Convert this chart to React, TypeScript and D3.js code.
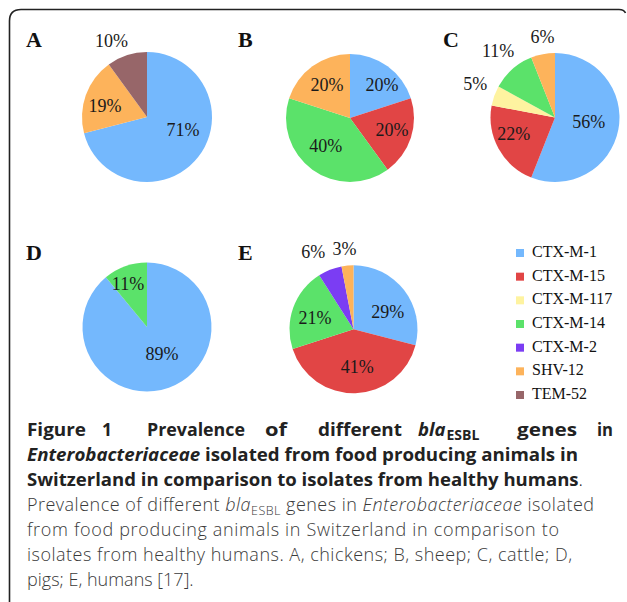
import React from "react";
import * as d3 from "d3";

const categories = ["CTX-M-1", "CTX-M-15", "CTX-M-117", "CTX-M-14", "CTX-M-2", "SHV-12", "TEM-52"];
const colors = ["#74b8fd", "#e14545", "#fef3a0", "#5be26a", "#7b3df3", "#fdb35b", "#976669"];
const chickens = [71, 0, 0, 0, 0, 19, 10];
const sheep = [20, 20, 0, 40, 0, 20, 0];
const cattle = [56, 22, 5, 11, 0, 6, 0];
const pigs = [89, 0, 0, 11, 0, 0, 0];
const humans = [29, 41, 0, 21, 6, 3, 0];
const panelLetters = ["A", "B", "C", "D", "E"];

// layout (positions of pies, letters and label placement: [angle shift deg, radius factor])
const panelLayout = [
  { cx: 147, cy: 117, r: 65, lx: 26, ly: 47, labels: [[-18, 0.59], [-5, 0.67], [-7, 1.29]] },
  { cx: 350, cy: 118, r: 64, lx: 238, ly: 47, labels: [[8, 0.72], [-3, 0.68], [5, 0.58], [1, 0.63]] },
  { cx: 555, cy: 117.5, r: 64.5, lx: 443, ly: 47, labels: [[-3, 0.53], [7, 0.69], [3, 1.34], [1, 1.36], [2, 1.27]] },
  { cx: 147, cy: 327, r: 64.5, lx: 26, ly: 260, labels: [[-10, 0.47], [-4, 0.73]] },
  { cx: 353.5, cy: 329.3, r: 64, lx: 238, ly: 260, labels: [[11, 0.6], [-4, 0.58], [-3, 0.63], [-6, 1.36], [-1, 1.26]] },
];
const panelValues = [chickens, sheep, cattle, pigs, humans];

const serif = "'Liberation Serif', 'Times New Roman', serif";
const sans = "'Open Sans', 'Noto Sans', sans-serif";

function Pie({ values, layout, letter }: any) {
  const items = values
    .map((v: number, i: number) => ({ v, i }))
    .filter((d: any) => d.v > 0);
  const arcs = d3
    .pie<any>()
    .sort(null)
    .value((d: any) => d.v)(items);
  const arc = d3.arc<any>().innerRadius(0).outerRadius(layout.r);
  return (
    <g>
      <text x={layout.lx} y={layout.ly} fontFamily={serif} fontWeight="bold" fontSize={22} fill="#111">
        {letter}
      </text>
      <g transform={`translate(${layout.cx},${layout.cy})`}>
        {arcs.map((a: any, k: number) => (
          <path key={k} d={arc(a) as string} fill={colors[a.data.i]} />
        ))}
        {arcs.map((a: any, k: number) => {
          const [shift, f] = layout.labels[k];
          const mid = (a.startAngle + a.endAngle) / 2 + (shift * Math.PI) / 180;
          const lr = f * layout.r;
          const [x, y] = d3
            .arc<any>()
            .innerRadius(lr)
            .outerRadius(lr)
            .centroid({ startAngle: mid, endAngle: mid });
          return (
            <text
              key={"t" + k}
              x={x}
              y={y}
              dy="0.35em"
              textAnchor="middle"
              fontFamily={serif}
              fontSize={18}
              fill="#1a1a1a"
            >
              {a.data.v}%
            </text>
          );
        })}
      </g>
    </g>
  );
}

function Legend() {
  const y = d3.scalePoint<string>().domain(categories).range([257, 399]);
  return (
    <g>
      {categories.map((c, i) => (
        <g key={c}>
          <rect x={516} y={(y(c) as number) - 8} width={8} height={8} fill={colors[i]} />
          <text x={532} y={y(c)} fontFamily={serif} fontSize={16} fill="#111">
            {c}
          </text>
        </g>
      ))}
    </g>
  );
}

function Caption() {
  const bold = { fontFamily: sans, fontWeight: 700, fontSize: 18.5, fill: "#222" } as any;
  const reg = { fontFamily: sans, fontWeight: 300, fontSize: 18, fill: "#3a3a3a" } as any;
  const w1: [string, number, number][] = [
    ["Figure", 27, 59],
    ["1", 102, 10],
    ["Prevalence", 147, 98],
    ["of", 265, 22],
    ["different", 318, 84],
    ["genes", 517, 60],
    ["in", 597, 16],
  ];
  const x0 = 27;
  return (
    <g>
      {w1.map(([t, x, w]) => (
        <text key={t} x={x} y={436} {...bold} textLength={w} lengthAdjust="spacingAndGlyphs">
          {t}
        </text>
      ))}
      <text x={418} y={436} {...bold}>
        <tspan fontStyle="italic">bla</tspan>
        <tspan fontSize={14} dy={4} dx={1}>
          ESBL
        </tspan>
      </text>
      <text x={x0} y={461} {...bold} textLength={551} lengthAdjust="spacingAndGlyphs">
        <tspan fontStyle="italic">Enterobacteriaceae</tspan> isolated from food producing animals in
      </text>
      <text x={x0} y={486} {...bold} textLength={556} lengthAdjust="spacingAndGlyphs">
        Switzerland in comparison to isolates from healthy humans
        <tspan fontWeight={300}>.</tspan>
      </text>
      <text x={x0} y={511} {...reg} textLength={567} lengthAdjust="spacing">
        Prevalence of different <tspan fontStyle="italic">bla</tspan>
        <tspan fontSize={12.5} dy={4}>
          ESBL
        </tspan>
        <tspan dy={-4}> genes in </tspan>
        <tspan fontStyle="italic">Enterobacteriaceae</tspan> isolated
      </text>
      <text x={x0} y={536} {...reg} textLength={532} lengthAdjust="spacing">
        from food producing animals in Switzerland in comparison to
      </text>
      <text x={x0} y={561} {...reg} textLength={545} lengthAdjust="spacing">
        isolates from healthy humans. A, chickens; B, sheep; C, cattle; D,
      </text>
      <text x={x0} y={586} {...reg}>
        pigs; E, humans [17].
      </text>
    </g>
  );
}

export default function App() {
  return (
    <svg
      width={627}
      height={602}
      viewBox="0 0 627 602"
      style={{ position: "absolute", left: 0, top: 0, background: "#fff" }}
    >
      <rect width={627} height={602} fill="#fff" />
      <path
        d="M 9.5 602 L 9.5 21 Q 9.5 9.5 21 9.5 L 619 9.5 Q 624 9.5 625.5 13"
        fill="none"
        stroke="#222"
        strokeWidth={1.6}
      />
      {panelLayout.map((l, i) => (
        <Pie key={i} values={panelValues[i]} layout={l} letter={panelLetters[i]} />
      ))}
      <Legend />
      <Caption />
    </svg>
  );
}
